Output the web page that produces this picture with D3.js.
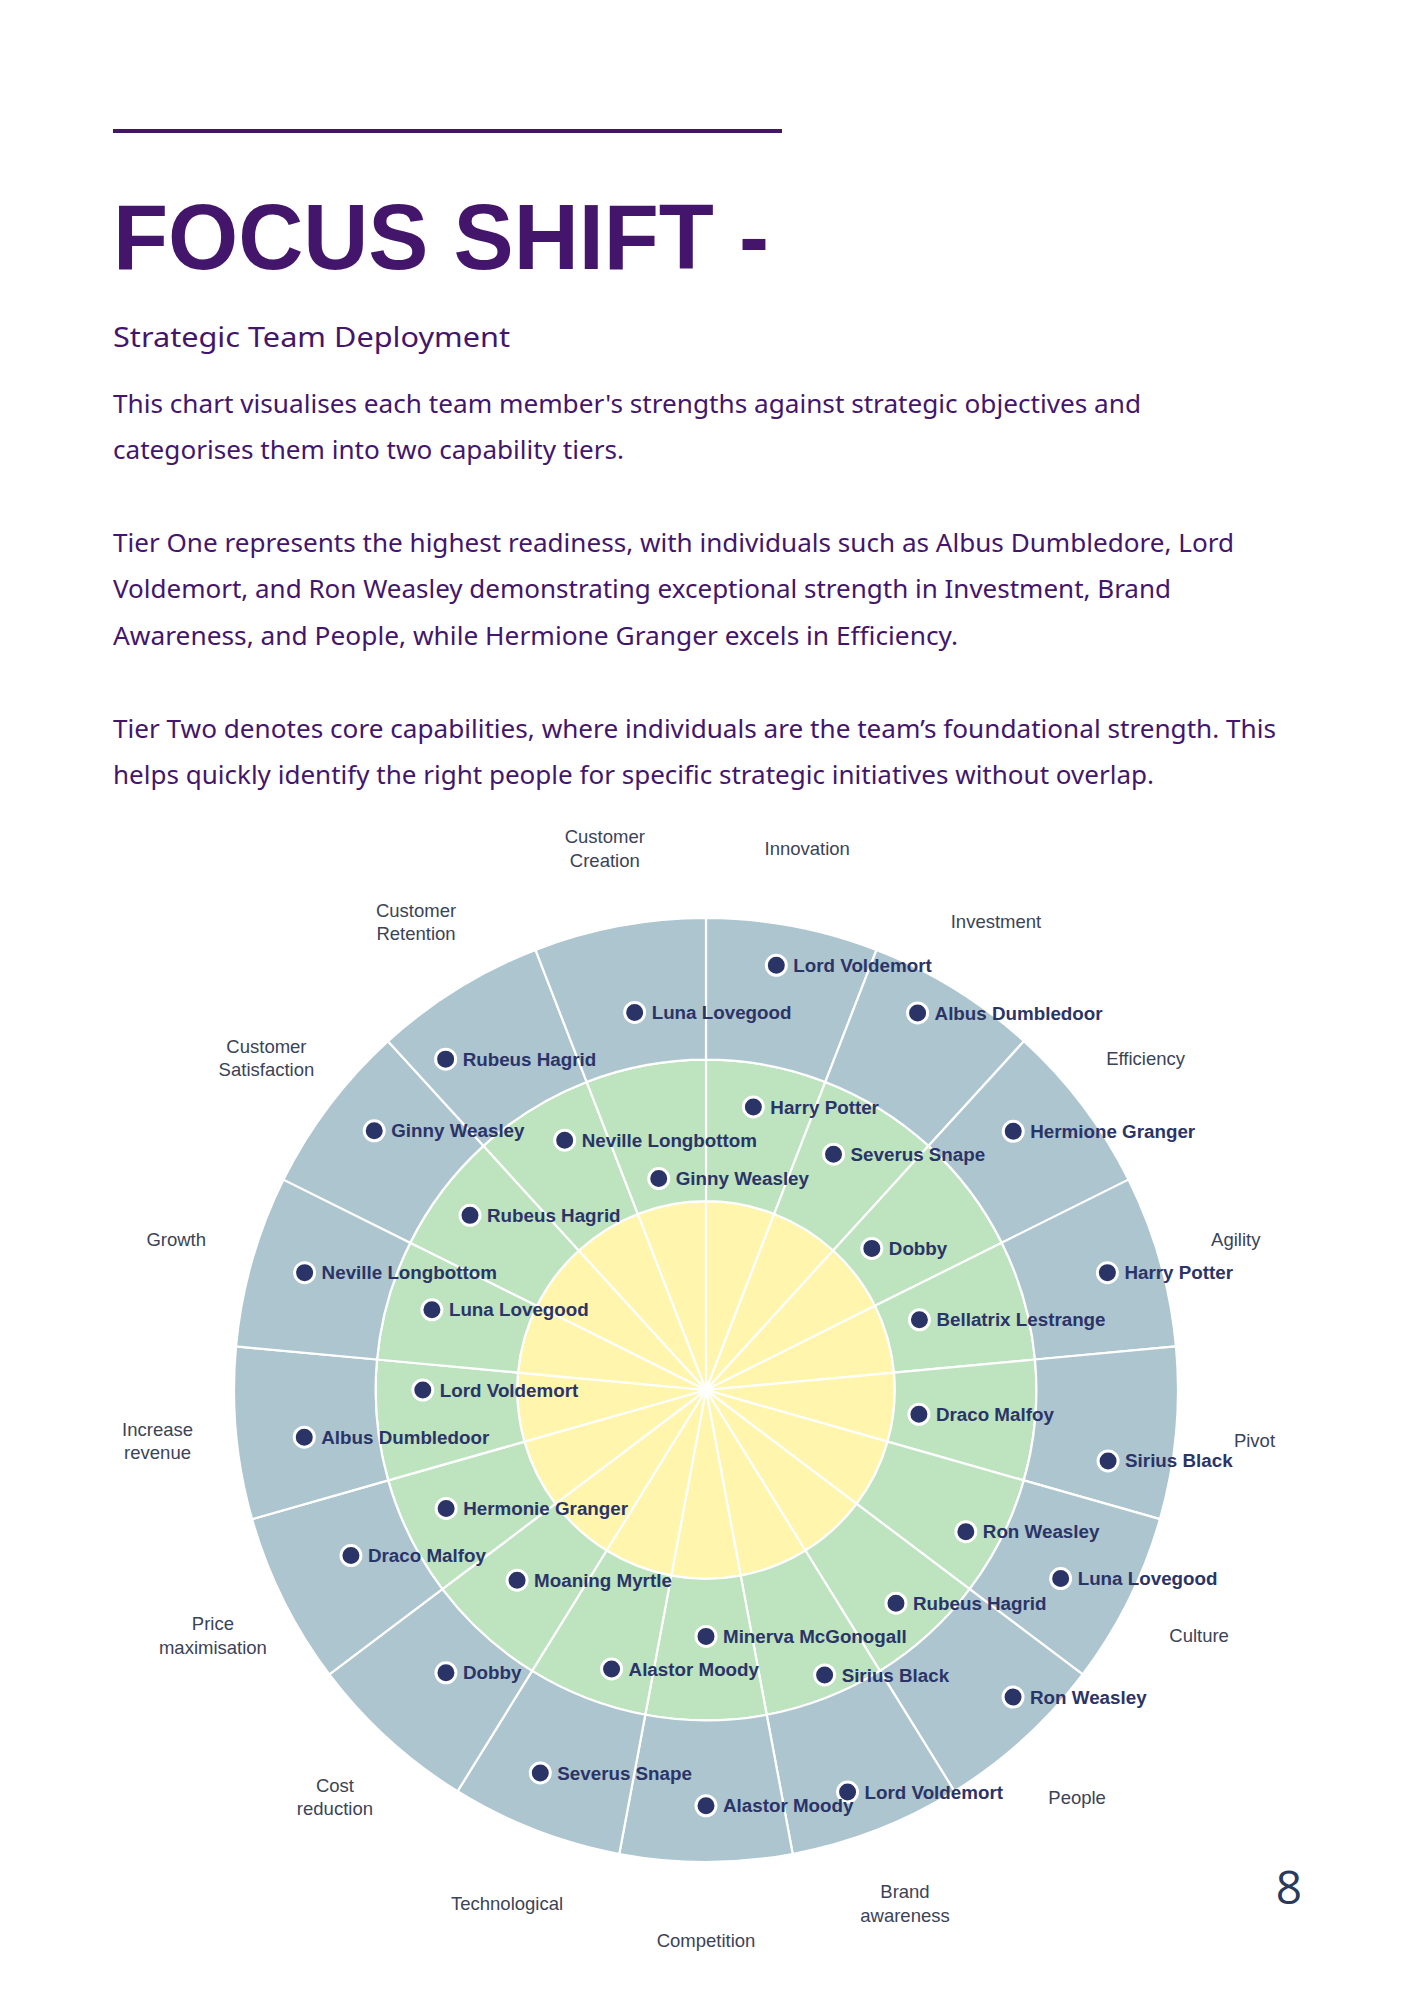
<!DOCTYPE html>
<html>
<head>
<meta charset="utf-8">
<script src="https://cdn.jsdelivr.net/npm/d3@7"></script>
<style>
  html, body { margin: 0; padding: 0; background: #ffffff; }
  svg { display: block; }
</style>
</head>
<body>
<script>
// ---------------- DATA ----------------
const titleText = "FOCUS SHIFT -";
const subtitleText = "Strategic Team Deployment";
const bodyLines = [
  "This chart visualises each team member's strengths against strategic objectives and",
  "categorises them into two capability tiers.",
  "Tier One represents the highest readiness, with individuals such as Albus Dumbledore, Lord",
  "Voldemort, and Ron Weasley demonstrating exceptional strength in Investment, Brand",
  "Awareness, and People, while Hermione Granger excels in Efficiency.",
  "Tier Two denotes core capabilities, where individuals are the team\u2019s foundational strength. This",
  "helps quickly identify the right people for specific strategic initiatives without overlap."
];
const pageNumber = "8";

// categories clockwise from the top
const categories = [
  "Innovation", "Investment", "Efficiency", "Agility", "Pivot", "Culture", "People",
  "Brand awareness", "Competition", "Technological", "Cost reduction",
  "Price maximisation", "Increase revenue", "Growth", "Customer Satisfaction",
  "Customer Retention", "Customer Creation"
];
// label line breaks
const categoryLabelLines = {
  "Brand awareness": ["Brand", "awareness"],
  "Cost reduction": ["Cost", "reduction"],
  "Price maximisation": ["Price", "maximisation"],
  "Increase revenue": ["Increase", "revenue"],
  "Customer Satisfaction": ["Customer", "Satisfaction"],
  "Customer Retention": ["Customer", "Retention"],
  "Customer Creation": ["Customer", "Creation"]
};

// ring boundaries (radial value, outer edge = 1)
const ringBounds = [0, 0.4, 0.7, 1.0];
const ringNames = ["Core", "Tier Two", "Tier One"];

// Tier One (outer ring): [name, theta (deg, clockwise from top), radial value]
const tierOne = [
  ["Lord Voldemort", 9.4, 0.912],
  ["Albus Dumbledoor", 29.3, 0.916],
  ["Hermione Granger", 49.9, 0.851],
  ["Harry Potter", 73.7, 0.886],
  ["Sirius Black", 100.0, 0.865],
  ["Luna Lovegood", 118.0, 0.851],
  ["Ron Weasley", 135.0, 0.920],
  ["Lord Voldemort", 160.6, 0.903],
  ["Alastor Moody", 180.0, 0.881],
  ["Severus Snape", 203.4, 0.884],
  ["Dobby", 222.6, 0.814],
  ["Draco Malfoy", 245.0, 0.830],
  ["Albus Dumbledoor", 263.3, 0.857],
  ["Neville Longbottom", 286.3, 0.886],
  ["Ginny Weasley", 308.0, 0.892],
  ["Rubeus Hagrid", 321.8, 0.892],
  ["Luna Lovegood", 349.3, 0.814]
];

// Tier Two (middle ring)
const tierTwo = [
  ["Harry Potter", 9.5, 0.608],
  ["Severus Snape", 28.4, 0.568],
  ["Dobby", 49.5, 0.462],
  ["Bellatrix Lestrange", 71.8, 0.476],
  ["Draco Malfoy", 96.5, 0.454],
  ["Ron Weasley", 118.6, 0.627],
  ["Rubeus Hagrid", 138.3, 0.605],
  ["Sirius Black", 157.4, 0.654],
  ["Minerva McGonogall", 180.0, 0.522],
  ["Alastor Moody", 198.7, 0.624],
  ["Moaning Myrtle", 224.8, 0.568],
  ["Hermonie Granger", 245.5, 0.605],
  ["Lord Voldemort", 270.0, 0.600],
  ["Luna Lovegood", 286.3, 0.605],
  ["Rubeus Hagrid", 306.5, 0.622],
  ["Neville Longbottom", 330.5, 0.608],
  ["Ginny Weasley", 347.4, 0.459]
];

// ---------------- STYLE / LAYOUT ----------------
const W = 1414, H = 2000;
const purple = "#43166b";
const ringColors = ["#fff5ad", "#bde3bf", "#adc5cf"];
const markerColor = "#2b3467";
const labelColor = "#3b4357";
const cx = 706, cy = 1390, Rmax = 472;
const labelRadius = 1.167;

const svg = d3.select("body").append("svg")
  .attr("width", W).attr("height", H)
  .attr("viewBox", `0 0 ${W} ${H}`);

svg.append("rect").attr("width", W).attr("height", H).attr("fill", "#fff");

// header rule
svg.append("line")
  .attr("x1", 113).attr("x2", 782).attr("y1", 131).attr("y2", 131)
  .attr("stroke", purple).attr("stroke-width", 4);

// title
svg.append("text")
  .attr("x", 113).attr("y", 269)
  .attr("font-family", "'Liberation Sans', Arial, sans-serif")
  .attr("font-weight", 700).attr("font-size", 93)
  .attr("fill", purple)
  .attr("textLength", 656).attr("lengthAdjust", "spacingAndGlyphs")
  .text(titleText);

// subtitle
svg.append("text")
  .attr("x", 113).attr("y", 347)
  .attr("font-family", "'Noto Sans', sans-serif")
  .attr("font-size", 28)
  .attr("fill", purple)
  .attr("textLength", 397).attr("lengthAdjust", "spacingAndGlyphs")
  .text(subtitleText);

// body
const bodyY = [412.5, 459, 551.5, 598, 644.5, 737.5, 784];
const bodyW = [1028, 511, 1121, 1058, 845, 1163, 1041];
svg.append("g").selectAll("text").data(bodyLines).join("text")
  .attr("x", 113).attr("y", (d, i) => bodyY[i])
  .attr("font-family", "'Noto Sans', sans-serif")
  .attr("font-size", 25)
  .attr("fill", purple)
  .attr("textLength", (d, i) => bodyW[i]).attr("lengthAdjust", "spacingAndGlyphs")
  .text(d => d);

// page number
svg.append("text")
  .attr("x", 1289).attr("y", 1904)
  .attr("text-anchor", "middle")
  .attr("font-family", "'Open Sans', sans-serif")
  .attr("font-weight", 400)
  .attr("font-size", 46)
  .attr("fill", "#2a3a5c")
  .text(pageNumber);

// ---------------- CHART ----------------
const g = svg.append("g").attr("transform", `translate(${cx},${cy})`);

const rScale = d3.scaleLinear().domain([0, 1]).range([0, Rmax]);
const thetaScale = d3.scaleLinear().domain([0, 360]).range([0, 2 * Math.PI]);
const band = d3.scaleBand().domain(categories).range([0, 2 * Math.PI]).padding(0);

const arc = d3.arc();
const cells = [];
ringNames.forEach((rn, ri) => {
  categories.forEach(c => {
    cells.push({
      ring: ri,
      innerRadius: rScale(ringBounds[ri]),
      outerRadius: rScale(ringBounds[ri + 1]),
      startAngle: band(c),
      endAngle: band(c) + band.bandwidth()
    });
  });
});

g.append("g").selectAll("path").data(cells).join("path")
  .attr("d", arc)
  .attr("fill", d => ringColors[d.ring])
  .attr("stroke", "#ffffff")
  .attr("stroke-width", 2.2)
  .attr("stroke-linejoin", "round");

// category labels
const lab = g.append("g").selectAll("text").data(categories).join("text")
  .attr("transform", d => {
    const a = band(d) + band.bandwidth() / 2;
    const r = rScale(labelRadius);
    return `translate(${r * Math.sin(a)},${-r * Math.cos(a)})`;
  })
  .attr("text-anchor", "middle")
  .attr("font-family", "'Liberation Sans', Arial, sans-serif")
  .attr("font-size", 18.5)
  .attr("fill", labelColor);
lab.each(function (d) {
  const lines = categoryLabelLines[d] || [d];
  const n = lines.length;
  d3.select(this).selectAll("tspan").data(lines).join("tspan")
    .attr("x", 0)
    .attr("y", (l, i) => (i - (n - 1) / 2) * 23.3)
    .attr("dy", "0.35em")
    .text(l => l);
});

// points
function pos(theta, r) {
  const a = thetaScale(theta);
  return [rScale(r) * Math.sin(a), -rScale(r) * Math.cos(a)];
}
const points = tierTwo.map(d => ({ name: d[0], theta: d[1], r: d[2] }))
  .concat(tierOne.map(d => ({ name: d[0], theta: d[1], r: d[2] })));

const pg = g.append("g").selectAll("g").data(points).join("g")
  .attr("transform", d => { const p = pos(d.theta, d.r); return `translate(${p[0]},${p[1]})`; });
pg.append("circle")
  .attr("r", 10)
  .attr("fill", markerColor)
  .attr("stroke", "#ffffff")
  .attr("stroke-width", 3);
pg.append("text")
  .attr("x", 17)
  .attr("dy", "0.35em")
  .attr("font-family", "'Liberation Sans', Arial, sans-serif")
  .attr("font-weight", 700)
  .attr("font-size", 18.8)
  .attr("fill", markerColor)
  .text(d => d.name);
</script>
</body>
</html>
